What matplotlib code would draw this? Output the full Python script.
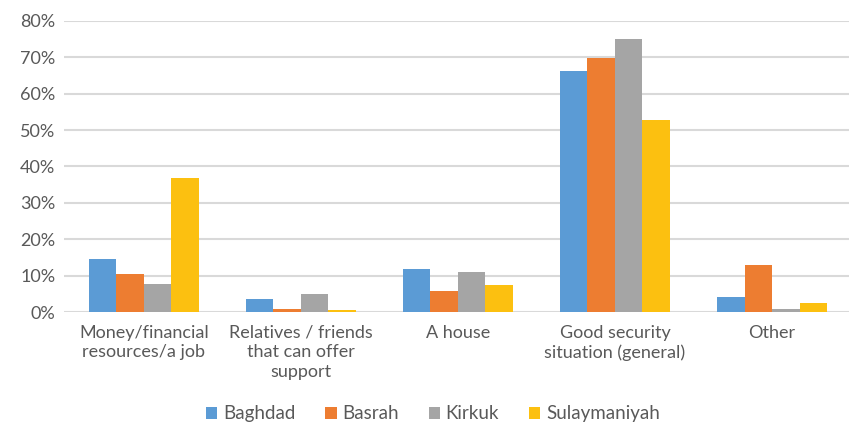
import numpy as np
import matplotlib.pyplot as plt
from matplotlib.ticker import FuncFormatter

# Data (share of respondents)
categories = ['Money/financial\nresources/a job', 'Relatives / friends\nthat can offer\nsupport',
              'A house', 'Good security\nsituation (general)', 'Other']
cities = ['Baghdad', 'Basrah', 'Kirkuk', 'Sulaymaniyah']
baghdad = [0.145, 0.035, 0.117, 0.662, 0.041]
basrah = [0.104, 0.009, 0.059, 0.697, 0.128]
kirkuk = [0.076, 0.049, 0.109, 0.750, 0.009]
sulaymaniyah = [0.369, 0.005, 0.074, 0.527, 0.026]

series = [baghdad, basrah, kirkuk, sulaymaniyah]
colors = ['#5b9bd5', '#ed7d31', '#a5a5a5', '#fcc010']

plt.rcParams['font.family'] = ['Lato', 'DejaVu Sans']

fig = plt.figure(figsize=(8.49, 4.28), dpi=100)
ax = fig.add_axes([0.075, 0.271, 0.925, 0.680])

x = np.arange(len(categories))
width = 0.175
for i, (vals, name) in enumerate(zip(series, cities)):
    ax.bar(x + (i - 1.5) * width + 0.01, vals, width, color=colors[i], label=name, zorder=3)

ax.set_xlim(-0.5, len(categories) - 0.5)
ax.set_ylim(0, 0.8)
ax.set_yticks(np.arange(0, 0.81, 0.1))
ax.yaxis.set_major_formatter(FuncFormatter(lambda v, p: f'{v * 100:.0f}%'))
ax.grid(axis='y', color='#d9d9d9', linewidth=1.5, zorder=0)
for s in ax.spines.values():
    s.set_visible(False)
ax.tick_params(axis='both', length=0, labelsize=13, colors='#595959', pad=6)
ax.set_xticks(x + 0.01)
ax.set_xticklabels(categories, va='top', linespacing=1.3)
ax.tick_params(axis='x', pad=9)

fig.legend(loc='center', bbox_to_anchor=(0.51, 0.033), ncol=4, frameon=False,
           fontsize=13.5, handlelength=0.6, handleheight=0.6, handletextpad=0.3, columnspacing=1.6,
           labelcolor='#595959')

fig.savefig('out.png', dpi=100)
